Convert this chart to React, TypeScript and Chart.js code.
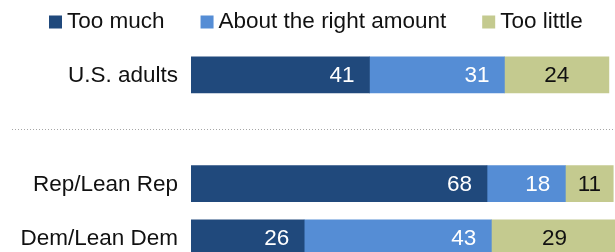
import React, { useEffect, useRef } from "react";
import { Chart, registerables } from "chart.js";

Chart.register(...registerables);

const categories = ["U.S. adults", "", "Rep/Lean Rep", "Dem/Lean Dem"];
const seriesNames = ["Too much", "About the right amount", "Too little"];
const tooMuch = [41, null, 68, 26];
const aboutRight = [31, null, 18, 43];
const tooLittle = [24, null, 11, 29];
const colors = ["#20497c", "#558dd5", "#c4ca8f"];
const labelColors = ["#ffffff", "#ffffff", "#111111"];

const FONT = "'Liberation Sans', Arial, sans-serif";
const FS = 22.5;

const legendPlugin = {
  id: "customLegend",
  afterDraw(chart: any) {
    const ctx = chart.ctx;
    ctx.save();
    ctx.font = `${FS}px ${FONT}`;
    ctx.textBaseline = "middle";
    ctx.textAlign = "left";
    let x = 49;
    const boxY = 15.5;
    chart.data.datasets.forEach((ds: any) => {
      ctx.fillStyle = ds.backgroundColor;
      ctx.fillRect(x, boxY, 13, 13);
      ctx.fillStyle = "#111";
      const tx = x + 18;
      ctx.fillText(ds.label, tx, 22);
      x = tx + ctx.measureText(ds.label).width + 36;
    });
    ctx.restore();
  },
};

const categoryLabelPlugin = {
  id: "categoryLabels",
  afterDraw(chart: any) {
    const ctx = chart.ctx;
    const ys = chart.scales.y;
    ctx.save();
    ctx.font = `${FS}px ${FONT}`;
    ctx.textBaseline = "middle";
    ctx.textAlign = "right";
    ctx.fillStyle = "#111";
    chart.data.labels.forEach((lab: string, i: number) => {
      if (!lab) return;
      ctx.fillText(lab, chart.chartArea.left - 13, ys.getPixelForValue(i) + 1);
    });
    ctx.restore();
  },
};

const dividerPlugin = {
  id: "divider",
  afterDraw(chart: any) {
    const ctx = chart.ctx;
    const y = Math.round(chart.scales.y.getPixelForValue(1)) + 0.5;
    ctx.save();
    ctx.strokeStyle = "#a6a6a6";
    ctx.lineWidth = 1;
    ctx.setLineDash([1, 2]);
    ctx.beginPath();
    ctx.moveTo(12, y);
    ctx.lineTo(chart.width, y);
    ctx.stroke();
    ctx.restore();
  },
};

const valueLabelPlugin = {
  id: "valueLabels",
  afterDatasetsDraw(chart: any) {
    const ctx = chart.ctx;
    ctx.save();
    ctx.font = `${FS}px ${FONT}`;
    ctx.textBaseline = "middle";
    chart.data.datasets.forEach((ds: any, i: number) => {
      const meta = chart.getDatasetMeta(i);
      meta.data.forEach((bar: any, j: number) => {
        const v = ds.data[j];
        if (v == null) return;
        const { x, y, base } = bar.getProps(["x", "y", "base"], true);
        ctx.fillStyle = labelColors[i];
        if (i < 2) {
          ctx.textAlign = "right";
          ctx.fillText(String(v), x - 15, y + 1);
        } else {
          ctx.textAlign = "center";
          ctx.fillText(String(v), (x + base) / 2, y + 1);
        }
      });
    });
    ctx.restore();
  },
};

export default function App() {
  const ref = useRef<HTMLCanvasElement>(null);
  useEffect(() => {
    if (!ref.current) return;
    const chart = new Chart(ref.current, {
      type: "bar",
      data: {
        labels: categories,
        datasets: [tooMuch, aboutRight, tooLittle].map((d, i) => ({
          label: seriesNames[i],
          data: d,
          backgroundColor: colors[i],
          borderWidth: 0,
          barThickness: 36,
          stack: "s",
        })),
      },
      options: {
        indexAxis: "y",
        animation: false,
        responsive: false,
        devicePixelRatio: 1,
        layout: { padding: { top: 47.8, left: 0, right: 0, bottom: 0 } },
        plugins: {
          legend: { display: false },
          tooltip: { enabled: false },
        },
        scales: {
          x: { stacked: true, display: false, min: 0, max: 97.4 },
          y: {
            stacked: true,
            grid: { display: false, drawTicks: false },
            border: { display: false },
            ticks: { display: false },
            afterFit(scale: any) {
              scale.width = 191;
            },
          },
        },
      },
      plugins: [legendPlugin, categoryLabelPlugin, dividerPlugin, valueLabelPlugin],
    });
    return () => chart.destroy();
  }, []);
  return (
    <div style={{ position: "fixed", left: 0, top: 0, width: 615, height: 252, overflow: "hidden" }}>
      <canvas ref={ref} width={615} height={265} style={{ display: "block", width: 615, height: 265 }} />
    </div>
  );
}
